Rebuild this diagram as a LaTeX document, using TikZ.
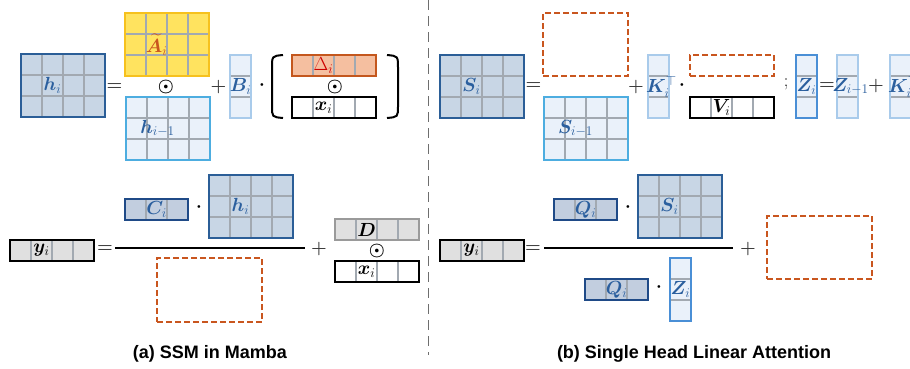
\RequirePackage{fix-cm}
\documentclass[tikz,border=0pt]{standalone}
\usepackage{amsmath,amssymb,bm}
\usepackage{fontspec}
\newfontfamily\capfont{Liberation Sans}
\usetikzlibrary{calc}
\definecolor{lblue}{HTML}{2B5F9E}
\definecolor{opgray}{HTML}{3A3A3A}
\definecolor{dashc}{HTML}{C9561F}
\definecolor{cellc}{HTML}{A2A9B1}
\newcommand{\bl}[1]{\textcolor{lblue}{$#1$}}
% block: label shift, style, name, NW corner, cols, rows, label
\newcommand{\blk}[7][0]{%
\node[blk,#2,anchor=north west,minimum width=#5*21,minimum height=#6*21] (#3) at (#4) {};
\foreach \c in {1,2,3}{\ifnum\c<#5 \draw[cell] ($(#3.north west)+(\c*21,0)$) -- ($(#3.south west)+(\c*21,0)$);\fi}
\foreach \r in {1,2}{\ifnum\r<#6 \draw[cell] ($(#3.north west)+(0,\r*21)$) -- ($(#3.north east)+(0,\r*21)$);\fi}
\draw[#2 edge] (#3.north west) rectangle (#3.south east);
\node[lbl] (#3-lbl) at ($(#3.north west)+({ifthenelse(#5>1,31.5,10.5)+#1},{ifthenelse(#6>1,31.5,10.5)})$) {#7};
}
\begin{document}
\begin{tikzpicture}[x=1pt,y=-1pt,
 blk/.style={inner sep=0pt,outer sep=0pt},
 cell/.style={draw=cellc,line width=1.2pt},
 lbl/.style={inner sep=0pt,font=\fontsize{19}{22}\selectfont},
 op/.style={inner sep=0pt,font=\fontsize{18}{22}\selectfont,text=opgray},
 dsh/.style={draw=dashc,line width=1.8pt,dash pattern=on 6pt off 3pt,anchor=north west,inner sep=0pt,outer sep=0pt},
 captxt/.style={font=\capfont\bfseries\fontsize{18}{22}\selectfont},
 st/.style={fill={rgb,255:red,200;green,214;blue,229}}, st edge/.style={draw={rgb,255:red,43;green,94;blue,151},line width=2pt},
 pv/.style={fill={rgb,255:red,234;green,241;blue,250}}, pv edge/.style={draw={rgb,255:red,77;green,173;blue,224},line width=2pt},
 amat/.style={fill={rgb,255:red,255;green,227;blue,95}}, amat edge/.style={draw={rgb,255:red,246;green,193;blue,30},line width=2pt},
 lt/.style={fill={rgb,255:red,234;green,241;blue,250}}, lt edge/.style={draw={rgb,255:red,169;green,203;blue,235},line width=1.8pt},
 zc/.style={fill={rgb,255:red,234;green,241;blue,250}}, zc edge/.style={draw={rgb,255:red,74;green,143;blue,214},line width=2pt},
 dl/.style={fill={rgb,255:red,245;green,191;blue,160}}, dl edge/.style={draw={rgb,255:red,196;green,87;blue,29},line width=2pt},
 wx/.style={fill=white}, wx edge/.style={draw=black,line width=2pt},
 gy/.style={fill={rgb,255:red,224;green,224;blue,224}}, gy edge/.style={draw=black,line width=2.4pt},
 gd/.style={fill={rgb,255:red,224;green,224;blue,224}}, gd edge/.style={draw={rgb,255:red,154;green,154;blue,154},line width=2pt},
 qv/.style={fill={rgb,255:red,194;green,206;blue,223}}, qv edge/.style={draw={rgb,255:red,31;green,74;blue,135},line width=2pt}]
\useasboundingbox (0,0) rectangle (910,368);
% (a) SSM in Mamba
\blk{st}{hcur}{21,54}{4}{3}{\bl{\bm{h}_i}}
\node[op] (eqa) at (114.5,87) {$\bm{=}$};
\blk{amat}{atil}{125,13}{4}{3}{\raisebox{-3pt}{\textcolor{dashc}{$\widetilde{\bm{A}}_i$}}}
\node[op,text=black] (oda) at (166,87) {$\bm{\odot}$};
\blk{pv}{hprev}{126,97}{4}{3}{\bl{\bm{h}_{i-1}}}
\node[op] (pla) at (218.5,87) {$\bm{+}$};
\blk{lt}{bvec}{230,55}{1}{3}{\bl{\bm{B}_i}}
\node[op,text=black] (dta) at (262,85) {$\bm{\cdot}$};
\draw[line width=2pt] (283,55) .. controls (272,56) .. (272,68) -- (272,106) .. controls (272,117) .. (283,118);
\draw[line width=2pt] (387,55) .. controls (398,56) .. (398,68) -- (398,106) .. controls (398,117) .. (387,118);
\blk{dl}{dlt}{292,55}{4}{1}{\textcolor{red!80!black}{$\Delta_i$}}
\node[op,text=black] (odb) at (335,87) {$\bm{\odot}$};
\blk{wx}{xa}{292,97}{4}{1}{$\bm{x}_i$}
\blk{gy}{ya}{10,240}{4}{1}{$\bm{y}_i$}
\node[op] (eqb) at (105,249) {$\bm{=}$};
\draw[line width=1.6pt] (115,248) -- (305,248);
\blk{qv}{ca}{125,199}{3}{1}{\bl{\bm{C}_i}}
\node[op,text=black] (dtb) at (199,207) {$\bm{\cdot}$};
\blk{st}{hb}{209,175}{4}{3}{\bl{\bm{h}_i}}
\node[dsh,minimum width=105,minimum height=64] (dsa) at (157,258) {};
\node[op] (plb) at (319,249) {$\bm{+}$};
\blk{gd}{dv}{335,219}{4}{1}{$\bm{D}$}
\node[op,text=black] (odc) at (377,251) {$\bm{\odot}$};
\blk{wx}{xb}{335,261}{4}{1}{$\bm{x}_i$}
\node[captxt] (capa) at (210,354) {(a) SSM in Mamba};
% divider
\draw[line width=1.8pt,draw={rgb,255:red,110;green,110;blue,110},dash pattern=on 10pt off 6pt] (428.5,0) -- (428.5,355);
% (b) Single Head Linear Attention
\blk{st}{scur}{440,55}{4}{3}{\bl{\bm{S}_i}}
\node[op] (eqc) at (533.5,86) {$\bm{=}$};
\node[dsh,minimum width=85,minimum height=63] (dsb) at (543,13) {};
\blk{pv}{sprev}{544,97}{4}{3}{\bl{\bm{S}_{i-1}}}
\node[op] (plc) at (636,87) {$\bm{+}$};
\blk[3]{lt}{kt}{648,55}{1}{3}{\bl{\bm{K}_i^{\top}}}
\node[op,text=black] (dtc) at (682,85) {$\bm{\cdot}$};
\node[dsh,minimum width=84,minimum height=21] (dsc) at (690,55) {};
\blk{wx}{vv}{690,97}{4}{1}{$\bm{V}_i$}
\node[op,text=black] (smc) at (786,84) {$;$};
\blk{zc}{zcur}{796,55}{1}{3}{\bl{\bm{Z}_i}}
\node[op] (eqd) at (827,86) {$\bm{=}$};
\blk[3]{lt}{zprev}{837,55}{1}{3}{\bl{\bm{Z}_{i-1}}}
\node[op] (pld) at (876,86) {$\bm{+}$};
\blk[3]{lt}{ktb}{890,55}{1}{3}{\bl{\bm{K}_i^{\top}}}
\blk{gy}{yb}{440,240}{4}{1}{$\bm{y}_i$}
\node[op] (eqe) at (533,249) {$\bm{=}$};
\draw[line width=1.6pt] (544,248) -- (733,248);
\blk{qv}{qa}{554,199}{3}{1}{\bl{\bm{Q}_i}}
\node[op,text=black] (dtd) at (628,207) {$\bm{\cdot}$};
\blk{st}{sb}{638,175}{4}{3}{\bl{\bm{S}_i}}
\blk{qv}{qb}{585,279}{3}{1}{\bl{\bm{Q}_i}}
\node[op,text=black] (dte) at (659,287) {$\bm{\cdot}$};
\blk{zc}{zb}{670,258}{1}{3}{\bl{\bm{Z}_i}}
\node[op] (ple) at (748,249) {$\bm{+}$};
\node[dsh,minimum width=105,minimum height=63] (dsd) at (767,216) {};
\node[captxt] (capb) at (694,354) {(b) Single Head Linear Attention};
\end{tikzpicture}
\end{document}
